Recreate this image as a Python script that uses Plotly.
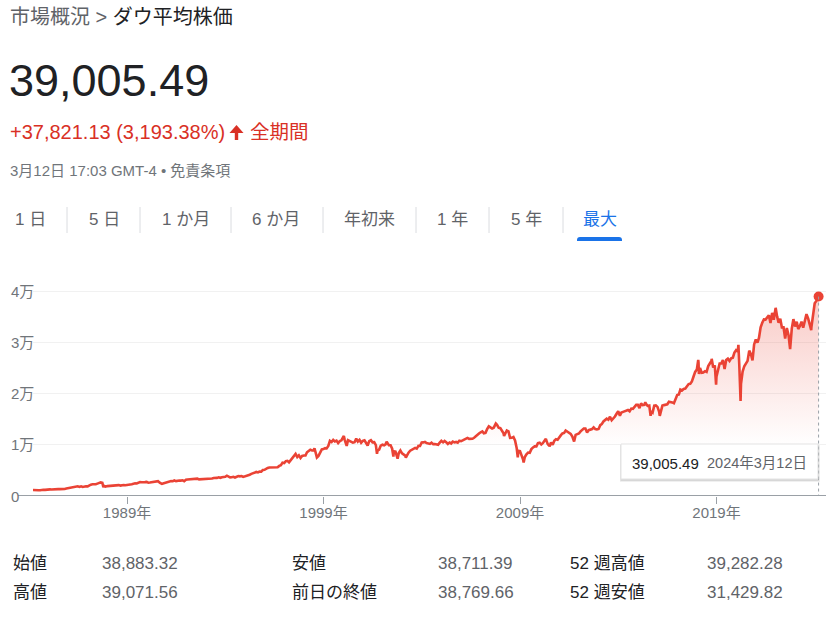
import plotly.graph_objects as go
import pandas as pd

# ---------------- data ----------------
start_date = "1984-03-20"
start_value = 1184.36

monthly_close = [
    # 1984 (Mar-Dec)
    1165, 1171, 1105, 1132, 1115, 1224, 1207, 1207, 1189, 1212,
    # 1985
    1287, 1284, 1267, 1258, 1315, 1336, 1348, 1334, 1329, 1375, 1472, 1547,
    # 1986
    1571, 1710, 1819, 1784, 1877, 1893, 1775, 1898, 1768, 1878, 1914, 1896,
    # 1987
    2158, 2224, 2305, 2286, 2292, 2419, 2572, 2663, 2596, 1994, 1834, 1939,
    # 1988
    1958, 2072, 1988, 2032, 2031, 2142, 2129, 2032, 2113, 2149, 2115, 2169,
    # 1989
    2342, 2258, 2294, 2419, 2480, 2440, 2661, 2737, 2693, 2645, 2706, 2753,
    # 1990
    2591, 2627, 2707, 2657, 2877, 2881, 2905, 2615, 2453, 2442, 2560, 2634,
    # 1991
    2736, 2882, 2914, 2888, 3028, 2907, 3025, 3044, 3017, 3069, 2895, 3169,
    # 1992
    3224, 3267, 3236, 3359, 3397, 3319, 3394, 3257, 3272, 3226, 3305, 3301,
    # 1993
    3310, 3371, 3435, 3428, 3527, 3516, 3540, 3651, 3555, 3681, 3684, 3754,
    # 1994
    3978, 3832, 3636, 3682, 3758, 3625, 3765, 3913, 3843, 3908, 3739, 3834,
    # 1995
    3844, 4011, 4158, 4321, 4465, 4556, 4709, 4611, 4789, 4756, 5075, 5117,
    # 1996
    5395, 5486, 5588, 5569, 5643, 5655, 5529, 5616, 5882, 6029, 6522, 6448,
    # 1997
    6813, 6878, 6584, 7009, 7331, 7673, 8223, 7622, 7945, 7442, 7823, 7908,
    # 1998
    7907, 8546, 8800, 9063, 8900, 8952, 8883, 7539, 7843, 8592, 9117, 9181,
    # 1999
    9359, 9307, 9786, 10789, 10560, 10971, 10655, 10829, 10337, 10729, 10878, 11497,
    # 2000
    10941, 10128, 10922, 10734, 10522, 10448, 10522, 11215, 10651, 10971, 10415, 10788,
    # 2001
    10887, 10495, 9879, 10735, 10912, 10502, 10523, 9950, 8848, 9075, 9852, 10022,
    # 2002
    9920, 10106, 10404, 9946, 9925, 9243, 8737, 8664, 7592, 8397, 8896, 8342,
    # 2003
    8054, 7891, 7992, 8480, 8850, 8985, 9234, 9416, 9275, 9801, 9782, 10454,
    # 2004
    10488, 10584, 10358, 10226, 10188, 10435, 10140, 10174, 10080, 10027, 10428, 10783,
    # 2005
    10490, 10766, 10504, 10193, 10467, 10275, 10641, 10482, 10569, 10440, 10806, 10718,
    # 2006
    10865, 10993, 11109, 11367, 11168, 11150, 11186, 11381, 11679, 12081, 12222, 12463,
    # 2007
    12622, 12269, 12354, 13063, 13628, 13409, 13212, 13358, 13896, 13930, 13372, 13265,
    # 2008
    12650, 12266, 12263, 12820, 12638, 11350, 11378, 11544, 10851, 9325, 8829, 8776,
    # 2009
    8001, 7063, 7609, 8168, 8500, 8447, 9172, 9496, 9712, 9713, 10345, 10428,
    # 2010
    10067, 10325, 10857, 11009, 10137, 9774, 10466, 10015, 10788, 11118, 11006, 11578,
    # 2011
    11892, 12226, 12320, 12811, 12570, 12414, 12143, 11614, 10913, 11955, 12046, 12218,
    # 2012
    12633, 12952, 13212, 13214, 12393, 12880, 13009, 13091, 13437, 13096, 13026, 13104,
    # 2013
    13861, 14054, 14579, 14840, 15116, 14910, 15500, 14810, 15130, 15546, 16086, 16577,
    # 2014
    15699, 16322, 16458, 16581, 16717, 16827, 16563, 17098, 17043, 17391, 17828, 17823,
    # 2015
    17165, 18133, 17776, 17841, 18011, 17620, 17690, 16528, 16285, 17664, 17720, 17425,
    # 2016
    16466, 16517, 17685, 17774, 17787, 17930, 18432, 18401, 18308, 18142, 19124, 19763,
    # 2017
    19864, 20812, 20663, 20941, 21009, 21350, 21891, 21948, 22405, 23377, 24272, 24719,
    # 2018
    26149, 25029, 24103, 24163, 24416, 24271, 25415, 25965, 26458, 25116, 25538, 23327,
    # 2019
    24999, 25916, 25929, 26593, 24815, 26600, 26864, 26403, 26917, 27046, 28051, 28538,
    # 2020
    28256, 25409, 21917, 24346, 25383, 25813, 26428, 28430, 27782, 26502, 29639, 30606,
    # 2021
    29983, 30932, 32982, 33875, 34529, 34503, 34935, 35361, 33844, 35820, 34484, 36338,
    # 2022
    35132, 33893, 34678, 32977, 32990, 30775, 32845, 31510, 28726, 32733, 34590, 33147,
    # 2023
    34086, 32657, 33274, 34098, 32908, 34408, 35560, 34722, 33508, 33053, 35951, 37690,
    # 2024 (Jan-Feb)
    38150, 38996,
]

extreme_dates = [
    "1987-08-25", "1987-10-19", "1990-07-16", "1990-10-11", "1998-07-17",
    "2000-01-14", "2000-03-07", "2001-09-21", "2002-03-19", "2002-07-23",
    "2002-10-09", "2003-03-11", "2007-10-09", "2008-03-10", "2008-11-20",
    "2009-03-09", "2010-04-26", "2010-07-02", "2011-04-29", "2011-10-03",
    "2015-05-19", "2015-08-25", "2016-02-11", "2018-01-26", "2018-02-08",
    "2018-10-03", "2018-12-24", "2020-02-12", "2020-03-23", "2022-01-04",
    "2023-10-27", "2024-03-12",
]
extreme_values = [
    2722, 1739, 2999, 2365, 9338,
    11723, 9796, 8236, 10635, 7702,
    7286, 7524, 14165, 11740, 7552,
    6547, 11205, 9686, 12811, 10655,
    18312, 15666, 15660, 26617, 23860,
    26828, 21792, 29551, 18592, 36800,
    32418, 39005.49,
]

y_tick_values = [0, 10000, 20000, 30000, 40000]
y_tick_labels = ["0", "1万", "2万", "3万", "4万"]
x_tick_values = ["1989-01-01", "1999-01-01", "2009-01-01", "2019-01-01"]
x_tick_labels = ["1989年", "1999年", "2009年", "2019年"]

tabs = ["1 日", "5 日", "1 か月", "6 か月", "年初来", "1 年", "5 年", "最大"]

stat_labels_col1 = ["始値", "高値"]
stat_values_col1 = ["38,883.32", "39,071.56"]
stat_labels_col2 = ["安値", "前日の終値"]
stat_values_col2 = ["38,711.39", "38,769.66"]
stat_labels_col3 = ["52 週高値", "52 週安値"]
stat_values_col3 = ["39,282.28", "31,429.82"]

# ---------------- assemble series ----------------
month_dates = pd.date_range("1984-03-31", periods=len(monthly_close), freq="ME")
df = pd.concat([
    pd.DataFrame({"d": [pd.Timestamp(start_date)], "v": [start_value]}),
    pd.DataFrame({"d": month_dates, "v": monthly_close}),
    pd.DataFrame({"d": pd.to_datetime(extreme_dates), "v": extreme_values}),
]).drop_duplicates("d").sort_values("d")

# ---------------- layout geometry (pixels) ----------------
FW, FH = 826, 622
L, T, W, H = 33, 270, 793, 226   # plot area
FONT = "Liberation Sans, Arial, Noto Sans CJK JP, sans-serif"
RED_LINE = "#ea4335"
RED_TXT = "#d93025"
DARK = "#202124"
GRAY = "#5f6368"
LGRAY = "#70757a"


def X(p):
    return (p - L) / W


def Y(p):
    return (T + H - p) / H


annotations = []
shapes = []


def text(s, x, y, size, color, anchor="left"):
    annotations.append(dict(
        text=s, x=X(x), y=Y(y), xref="paper", yref="paper",
        xanchor=anchor, yanchor="middle", showarrow=False, borderpad=0,
        font=dict(size=size, color=color, family=FONT)))


fig = go.Figure()
fig.add_trace(go.Scatter(
    x=df["d"], y=df["v"], mode="lines",
    line=dict(color=RED_LINE, width=2.6),
    fill="tozeroy",
    fillgradient=dict(type="vertical", start=0, stop=39005,
                      colorscale=[[0, "rgba(234,67,53,0)"],
                                  [0.25, "rgba(234,67,53,0)"],
                                  [1, "rgba(234,67,53,0.28)"]]),
    hoverinfo="skip",
))
fig.add_trace(go.Scatter(
    x=[df["d"].iloc[-1]], y=[df["v"].iloc[-1]], mode="markers",
    marker=dict(color=RED_LINE, size=10), hoverinfo="skip",
))

# header
text("<span style='color:%s'>市場概況 &gt; </span>ダウ平均株価" % GRAY, 9, 17, 20, DARK)
text("39,005.49", 8, 81, 45, DARK)
text("+37,821.13 (3,193.38%)", 9, 132, 20, RED_TXT)
text("全期間", 249, 132, 19.5, RED_TXT)
text("3月12日 17:03 GMT-4 • 免責条項", 9, 170, 15, LGRAY)

# up arrow icon
ax0, ax1, axm = 229.5, 243.5, 236.5
arrow = "M {} {} L {} {} L {} {} L {} {} L {} {} L {} {} L {} {} Z".format(
    X(ax0), Y(133), X(axm), Y(125), X(ax1), Y(133),
    X(238.2), Y(133), X(238.2), Y(140), X(234.8), Y(140), X(234.8), Y(133))
shapes.append(dict(type="path", xref="paper", yref="paper", path=arrow,
                   fillcolor=RED_TXT, line=dict(width=0)))

# tabs
tab_centers = [30, 104, 186, 276, 369, 453, 526, 600]
for name, cx in zip(tabs, tab_centers):
    text(name, cx, 219, 17, "#1a73e8" if name == "最大" else GRAY, anchor="center")
for sx in [67, 140, 231, 323, 416, 489, 563]:
    shapes.append(dict(type="line", xref="paper", yref="paper",
                       x0=X(sx), x1=X(sx), y0=Y(207), y1=Y(233),
                       line=dict(color="#dadce0", width=1)))
u0, u1, ut, ub, r = 577, 622, 237, 241, 3
under = "M {} {} L {} {} Q {} {} {} {} L {} {} Q {} {} {} {} L {} {} Z".format(
    X(u0), Y(ub), X(u0), Y(ut + r), X(u0), Y(ut), X(u0 + r), Y(ut),
    X(u1 - r), Y(ut), X(u1), Y(ut), X(u1), Y(ut + r), X(u1), Y(ub))
shapes.append(dict(type="path", xref="paper", yref="paper", path=under,
                   fillcolor="#1a73e8", line=dict(width=0)))

# y tick labels (placed on the y scale)
for v, lab in zip(y_tick_values, y_tick_labels):
    annotations.append(dict(
        text=lab, x=X(9.5), y=v, xref="paper", yref="y", xanchor="left",
        yanchor="middle", showarrow=False, borderpad=0,
        font=dict(size=15, color=LGRAY, family=FONT)))

# baseline
shapes.append(dict(type="line", xref="paper", yref="y", x0=X(18), x1=1,
                   y0=0, y1=0, line=dict(color="#9aa0a6", width=2)))

# dotted crosshair at last point
last_d, last_v = df["d"].iloc[-1], df["v"].iloc[-1]
shapes.append(dict(type="line", xref="x", yref="y", x0=last_d, x1=last_d,
                   y0=last_v, y1=0, line=dict(color="#9aa0a6", width=1, dash="dot")))

# tooltip box
shapes.append(dict(type="rect", xref="paper", yref="paper",
                   x0=X(620), x1=X(820), y0=Y(482), y1=Y(445),
                   fillcolor="rgba(0,0,0,0.06)", line=dict(width=0)))
shapes.append(dict(type="rect", xref="paper", yref="paper",
                   x0=X(620.5), x1=X(819), y0=Y(481), y1=Y(445),
                   fillcolor="rgba(0,0,0,0.10)", line=dict(width=0)))
shapes.append(dict(type="rect", xref="paper", yref="paper",
                   x0=X(621), x1=X(818), y0=Y(479), y1=Y(444),
                   fillcolor="white", line=dict(color="#e3e3e3", width=1)))
text("39,005.49", 631, 463, 15, DARK)
text("2024年3月12日", 706, 463, 14.5, GRAY)

# stats table
rows_y = [563, 592]
for labs, vals, lx, vx in [
    (stat_labels_col1, stat_values_col1, 12, 101),
    (stat_labels_col2, stat_values_col2, 291, 437),
    (stat_labels_col3, stat_values_col3, 569, 706),
]:
    for i, yy in enumerate(rows_y):
        text(labs[i], lx, yy, 17, DARK)
        text(vals[i], vx, yy, 17, GRAY)

fig.update_layout(
    width=FW, height=FH,
    margin=dict(l=L, r=FW - L - W, t=T, b=FH - T - H, pad=0),
    paper_bgcolor="white", plot_bgcolor="white",
    showlegend=False,
    annotations=annotations, shapes=shapes,
    xaxis=dict(type="date", range=["1984-03-20", "2024-07-28"],
               tickvals=x_tick_values, ticktext=x_tick_labels,
               ticks="outside", ticklen=7, tickwidth=1, tickcolor="#9aa0a6",
               ticklabelstandoff=-4,
               showgrid=False, zeroline=False, showline=False,
               tickfont=dict(size=15, color=LGRAY, family=FONT), fixedrange=True),
    yaxis=dict(range=[0, 44200], tickvals=y_tick_values[1:], showticklabels=False,
               showgrid=True, gridcolor="#f1f1f1", gridwidth=1, zeroline=False,
               showline=False, fixedrange=True),
)

fig.write_html("out.html", config={"displayModeBar": False},
               post_script="document.body.style.margin='0';")
